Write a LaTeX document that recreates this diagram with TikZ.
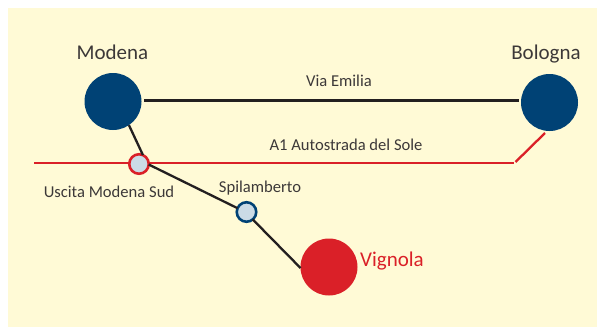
\documentclass[tikz,border=0pt]{standalone}
\usepackage{fontspec}
\setmainfont{Carlito}
\definecolor{bgc}{RGB}{255,250,214}
\definecolor{cityblue}{RGB}{0,66,117}
\definecolor{cityred}{RGB}{218,32,40}
\definecolor{inner}{RGB}{203,219,230}
\definecolor{ink}{RGB}{35,31,32}
\definecolor{txt}{RGB}{60,56,56}
\tikzset{
  city/.style={circle,draw=none,minimum size=57pt,inner sep=0pt,outer sep=0pt},
  stop/.style={circle,line width=2.6pt,fill=inner,minimum size=19.5pt,inner sep=0pt,outer sep=0pt},
  road/.style={ink,line width=2.3pt},
  motorway/.style={cityred,line width=2.3pt},
  big/.style={txt,font=\fontsize{21}{24}\selectfont,inner sep=0pt,anchor=center},
  small/.style={txt,font=\fontsize{16.6}{18}\selectfont,inner sep=0pt,anchor=center}
}
\begin{document}
\begin{tikzpicture}[x=1pt,y=-1pt]
\useasboundingbox (0,0) rectangle (597,327);
\fill[bgc] (8,8) rectangle (597,327);
\node[city,fill=cityblue] (modena) at (113,101.5) {};
\node[city,fill=cityblue] (bologna) at (549.5,102.5) {};
\node[city,fill=cityred] (vignola) at (329,267) {};
\coordinate (west) at (34,163.3);
\coordinate (bend) at (514,163.3);
\coordinate (bolognaS) at (545,133);
\coordinate (bendS) at (515.5,162);
\coordinate (emW) at (144,100.5);
\coordinate (emE) at (518.5,100.5);
\draw[road] (emW) -- (emE);
\draw[motorway] (west) -- (bend);
\draw[motorway] (bendS) -- (bolognaS);
\node[stop,draw=cityred] (uscita) at (139,164) {};
\node[stop,draw=cityblue] (spil) at (246.5,212) {};
\draw[road] (modena.-56) -- (uscita.66);
\draw[road] (uscita.-3) -- (spil.157);
\draw[road] (spil.-50) -- (vignola.182);
\node[big] (lm) at (112.5,52) {Modena};
\node[big] (lb) at (546,54) {Bologna};
\node[big,text=cityred] (lv) at (392,261) {Vignola};
\node[small] (le) at (339,81) {Via Emilia};
\node[small] (la) at (346,145) {A1 Autostrada del Sole};
\node[small] (lu) at (109,192) {Uscita Modena Sud};
\node[small] (ls) at (260,188) {Spilamberto};
\end{tikzpicture}
\end{document}
